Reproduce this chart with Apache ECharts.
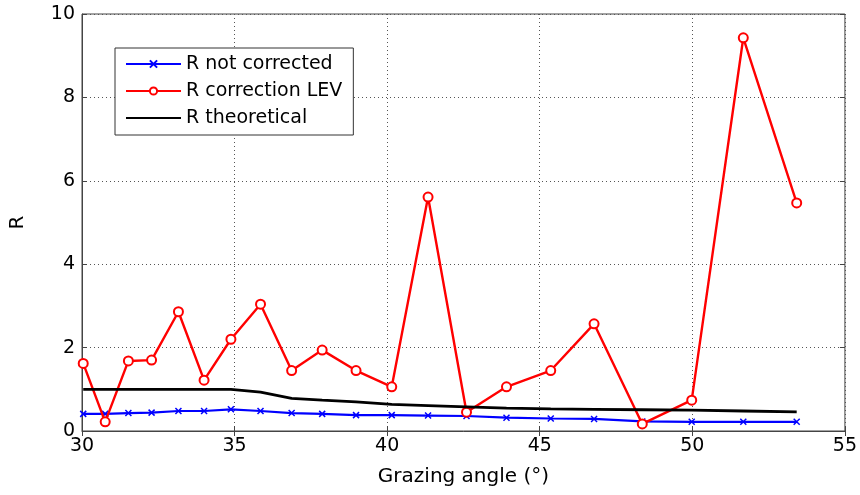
<!DOCTYPE html>
<html>
<head>
<meta charset="utf-8">
<script src="https://cdn.jsdelivr.net/npm/echarts@6/dist/echarts.min.js"></script>
<style>
  html, body { margin: 0; padding: 0; background: #fff; }
  #chart { width: 860px; height: 495px; }
</style>
</head>
<body>
<div id="chart"></div>
<script>
let angles = [30.04, 30.76, 31.52, 32.28, 33.16, 34.0, 34.88, 35.85, 36.87, 37.87, 38.98,
    40.15, 41.34, 42.6, 43.91, 45.36, 46.78, 48.36, 49.98, 51.67, 53.42];
let r_not_corrected = [0.41, 0.41, 0.43, 0.44, 0.48, 0.48, 0.52, 0.48, 0.43, 0.41, 0.38,
    0.38, 0.37, 0.36, 0.32, 0.30, 0.29, 0.23, 0.22, 0.22, 0.22];
let r_lev = [1.62, 0.22, 1.68, 1.70, 2.86, 1.22, 2.20, 3.04, 1.45, 1.94, 1.45,
    1.06, 5.61, 0.45, 1.06, 1.45, 2.57, 0.17, 0.74, 9.43, 5.47];
let r_theory = [1.0, 1.0, 1.0, 1.0, 1.0, 1.0, 1.0, 0.93, 0.78, 0.74, 0.70,
    0.64, 0.61, 0.58, 0.55, 0.53, 0.52, 0.51, 0.50, 0.48, 0.46];
let names = ['R not corrected', 'R correction LEV', 'R theoretical'];

function pairs(ys) {
    return angles.map(function (x, i) { return [x, ys[i]]; });
}

let myChart = echarts.init(document.getElementById('chart'));
let font = 'DejaVu Sans';
let cross = 'path://M0,0L10,10M10,0L0,10';

let option = {
    animation: false,
    grid: {
        left: 82, right: 15, top: 14, bottom: 64,
        show: true, borderColor: '#444', borderWidth: 1
    },
    legend: {
        orient: 'vertical',
        left: 115, top: 48,
        data: [names[0], names[1], { name: names[2], itemStyle: { opacity: 0 } }],
        backgroundColor: '#fff',
        borderColor: '#333', borderWidth: 1, borderRadius: 0,
        padding: [6, 11, 7, 10],
        itemWidth: 55, itemHeight: 9, itemGap: 7,
        textStyle: { fontFamily: font, fontSize: 19, lineHeight: 20, color: '#000' }
    },
    xAxis: [{
        type: 'value', min: 30, max: 55, interval: 5,
        name: 'Grazing angle (°)', nameLocation: 'middle', nameGap: 36,
        nameTextStyle: { fontFamily: font, fontSize: 20, color: '#000' },
        axisLine: { show: true, lineStyle: { color: '#444' } },
        axisTick: { inside: true, length: 5, lineStyle: { color: '#444' } },
        axisLabel: { fontFamily: font, fontSize: 19, color: '#000', margin: 6 },
        splitLine: { show: true, lineStyle: { type: [1, 3], color: '#555' } }
    }, {
        type: 'value', min: 30, max: 55, interval: 5, position: 'top',
        axisLine: { show: false },
        axisTick: { inside: true, length: 5, lineStyle: { color: '#444' } },
        axisLabel: { show: false }, splitLine: { show: false }
    }],
    yAxis: [{
        type: 'value', min: 0, max: 10, interval: 2,
        name: 'R', nameLocation: 'middle', nameGap: 54,
        nameTextStyle: { fontFamily: font, fontSize: 20, color: '#000' },
        axisLine: { show: true, lineStyle: { color: '#444' } },
        axisTick: { inside: true, length: 5, lineStyle: { color: '#444' } },
        axisLabel: { fontFamily: font, fontSize: 19, color: '#000', margin: 7 },
        splitLine: { show: true, lineStyle: { type: [1, 3], color: '#555' } }
    }, {
        type: 'value', min: 0, max: 10, interval: 2, position: 'right',
        axisLine: { show: false },
        axisTick: { inside: true, length: 5, lineStyle: { color: '#444' } },
        axisLabel: { show: false }, splitLine: { show: false }
    }],
    series: [{
        name: names[0],
        type: 'line',
        data: pairs(r_not_corrected),
        symbol: cross, symbolSize: 6,
        itemStyle: { color: '#0000ff', borderColor: '#0000ff', borderWidth: 1.5 },
        lineStyle: { color: '#0000ff', width: 2.2 },
        z: 3
    }, {
        name: names[1],
        type: 'line',
        data: pairs(r_lev),
        symbol: 'emptyCircle', symbolSize: 9,
        itemStyle: { color: '#ff0000', borderColor: '#ff0000', borderWidth: 1.6 },
        lineStyle: { color: '#ff0000', width: 2.4 },
        z: 4
    }, {
        name: names[2],
        type: 'line',
        data: pairs(r_theory),
        symbol: 'none',
        itemStyle: { color: '#000' },
        lineStyle: { color: '#000', width: 2.8 },
        z: 5
    }]
};

myChart.setOption(option);
</script>
</body>
</html>
